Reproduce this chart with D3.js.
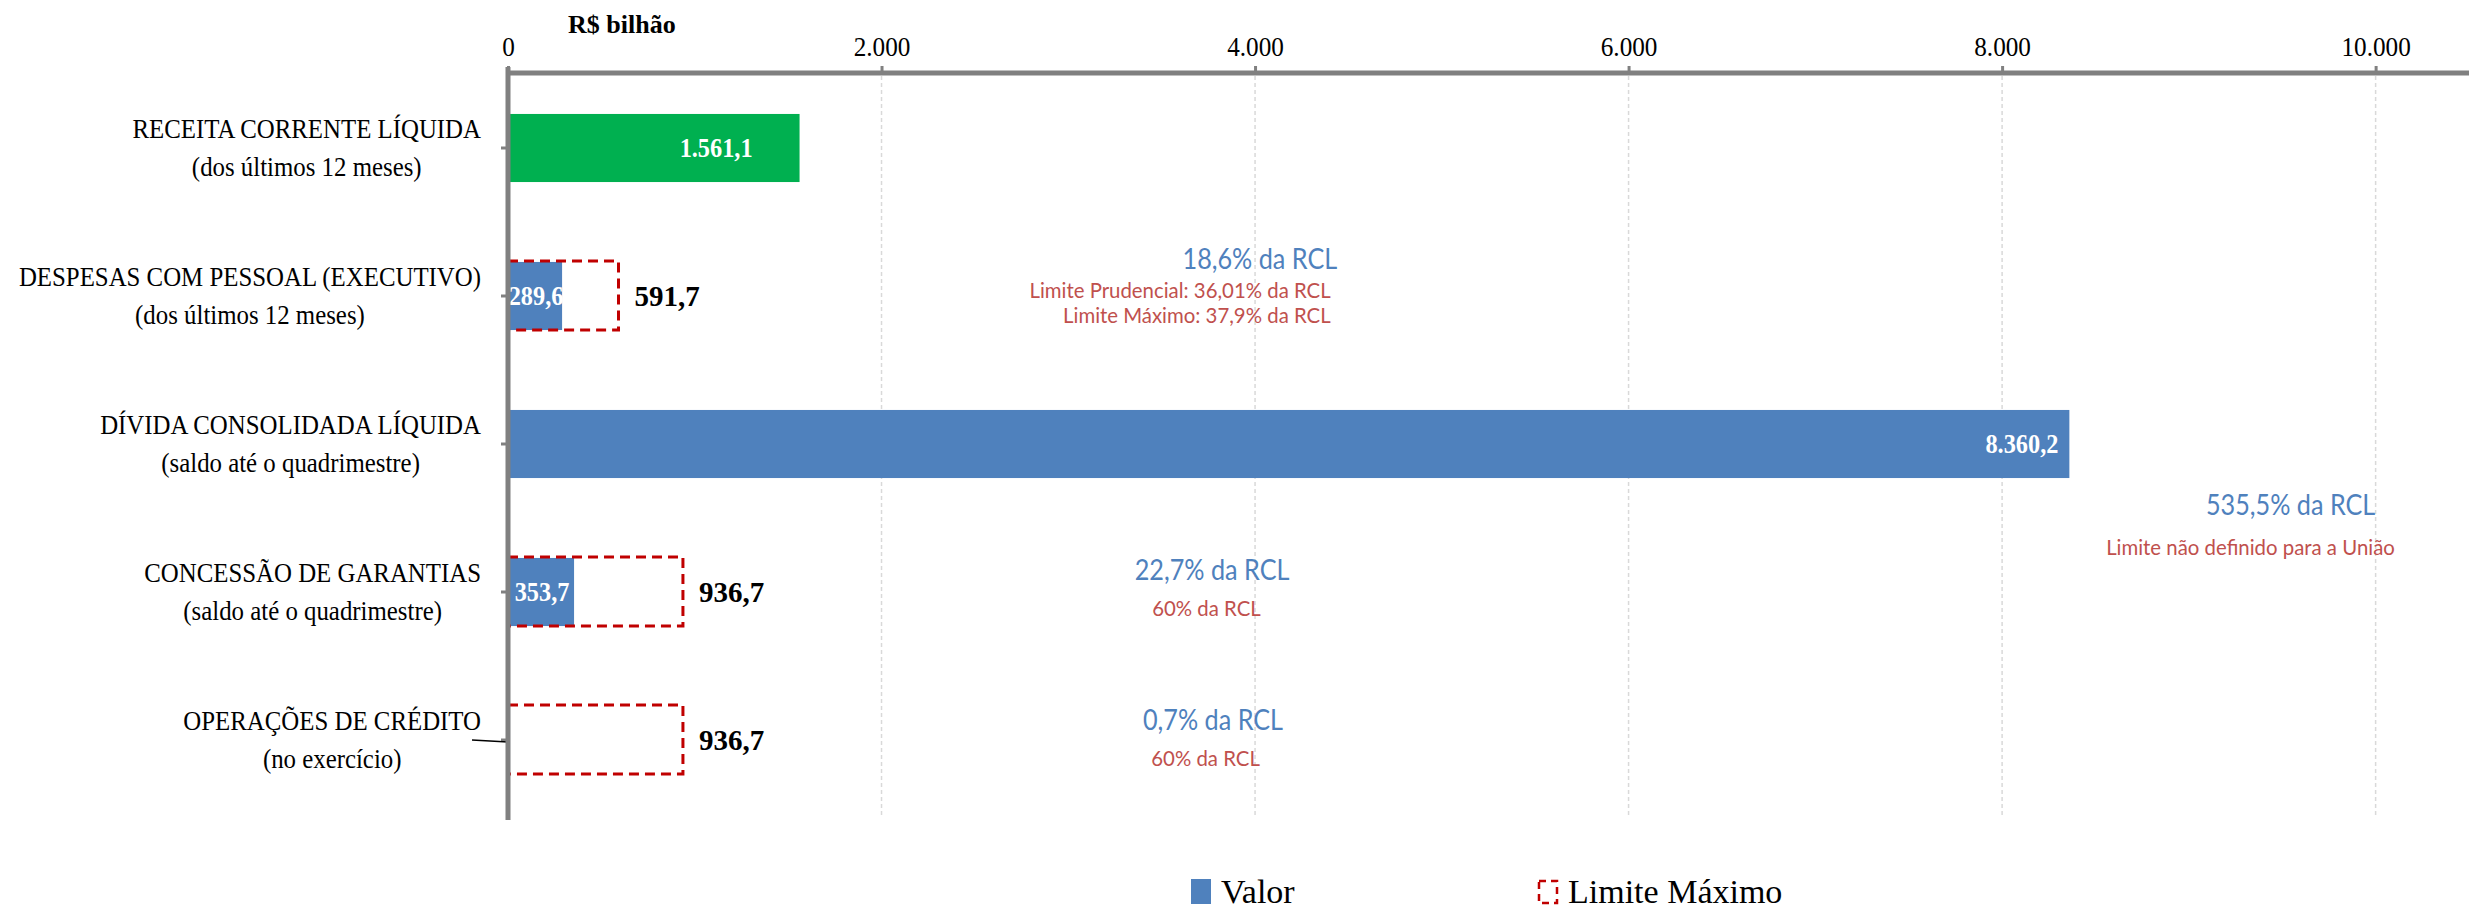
<!DOCTYPE html>
<html>
<head>
<meta charset="utf-8">
<script src="https://cdn.jsdelivr.net/npm/d3@7"></script>
<style>
body{margin:0;background:#fff;}
text{font-family:"Liberation Serif",serif;}
.note{font-family:Lato,"Open Sans",sans-serif;}
</style>
</head>
<body>
<div id="chart"></div>
<script>
var w = 2481;
var h = 910;

// data
var categorias = ["RECEITA CORRENTE LÍQUIDA", "DESPESAS COM PESSOAL (EXECUTIVO)", "DÍVIDA CONSOLIDADA LÍQUIDA", "CONCESSÃO DE GARANTIAS", "OPERAÇÕES DE CRÉDITO"];
var subtitulos = ["(dos últimos 12 meses)", "(dos últimos 12 meses)", "(saldo até o quadrimestre)", "(saldo até o quadrimestre)", "(no exercício)"];
var valor = [1561.1, 289.6, 8360.2, 353.7, 10.9];
var limiteMaximo = [null, 591.7, null, 936.7, 936.7];
var ticks = [0, 2000, 4000, 6000, 8000, 10000];
var pctRCL = ["", "18,6% da RCL", "535,5% da RCL", "22,7% da RCL", "0,7% da RCL"];
var limiteTexto = [[], ["Limite Prudencial: 36,01% da RCL", "Limite Máximo: 37,9% da RCL"], ["Limite não definido para a União"], ["60% da RCL"], ["60% da RCL"]];

// layout / style (not data)
var barColors = ["#00B050", "#4F81BD", "#4F81BD", "#4F81BD", "#4F81BD"];
var labelMode = ["end", "middle", "end", "middle", "none"];
var labelInset = [47, 0, 11, 0, 0];
// note anchors in R$ bilhão along x, dy from band center
var pctPos = [null, {x: 4440, a: "end", dy: -27}, {x: 9545, a: "middle", dy: 71}, {x: 3770, a: "middle", dy: -12}, {x: 3775, a: "middle", dy: -10}];
var limPos = [null, {x: 4405, a: "end", dy: 2, step: 25}, {x: 9330, a: "middle", dy: 111, step: 0}, {x: 3740, a: "middle", dy: 24, step: 0}, {x: 3735, a: "middle", dy: 26, step: 0}];

var br = d3.formatLocale({decimal: ",", thousands: ".", grouping: [3], currency: ["R$", ""]});
var fmt = br.format(",.1f");

// narrow the text a bit, the original font is a condensed one
function squeeze(sel, f){
	sel.each(function(){
		var l = this.getComputedTextLength();
		d3.select(this).attr("textLength", l * f).attr("lengthAdjust", "spacingAndGlyphs");
	});
}

var svg = d3.select("#chart").append("svg")
	.attr("width", w)
	.attr("height", h)
	.style("background", "#FFFFFF");

var x = d3.scaleLinear()
	.domain([0, 10500])
	.range([508, 2469]);

var y = d3.scaleBand()
	.domain(d3.range(categorias.length))
	.range([74, 814])
	.paddingInner(0.54)
	.paddingOuter(0.27);

var axisY = 73, axisBottom = 818;

// gridlines
svg.append("g").selectAll("line")
	.data(ticks.filter(function(t){return t > 0;}))
	.enter().append("line")
	.attr("x1", function(d){return x(d);})
	.attr("x2", function(d){return x(d);})
	.attr("y1", axisY + 3)
	.attr("y2", axisBottom)
	.style("stroke", "#D9D9D9")
	.style("stroke-width", 1.5)
	.style("stroke-dasharray", "4,3");

// valor bars
svg.append("g").selectAll("rect")
	.data(valor)
	.enter().append("rect")
	.attr("x", x(0))
	.attr("y", function(d, i){return y(i);})
	.attr("width", function(d){return x(d) - x(0);})
	.attr("height", y.bandwidth())
	.style("fill", function(d, i){return barColors[i];});

// limite maximo dashed boxes
svg.append("g").selectAll("rect")
	.data(limiteMaximo.map(function(d, i){return {v: d, i: i};}).filter(function(d){return d.v != null;}))
	.enter().append("rect")
	.attr("x", x(0))
	.attr("y", function(d){return y(d.i) - 1;})
	.attr("width", function(d){return x(d.v) - x(0);})
	.attr("height", y.bandwidth() + 1)
	.style("fill", "none")
	.style("stroke", "#C00000")
	.style("stroke-width", 3)
	.style("stroke-dasharray", "10,6");

// labels on bars
var barLabels = svg.append("g").selectAll("text")
	.data(valor.map(function(d, i){return {v: d, i: i};}).filter(function(d){return labelMode[d.i] != "none";}))
	.enter().append("text")
	.attr("x", function(d){
		if(labelMode[d.i] == "end") return x(d.v) - labelInset[d.i];
		return (x(0) + x(d.v)) / 2 + 1;
	})
	.attr("y", function(d){return y(d.i) + y.bandwidth() / 2 + 9;})
	.attr("text-anchor", function(d){return labelMode[d.i];})
	.style("fill", "#FFFFFF")
	.style("font-weight", "bold")
	.style("font-size", "27px")
	.text(function(d){return fmt(d.v);});
squeeze(barLabels, 0.9);

// labels for limite
svg.append("g").selectAll("text")
	.data(limiteMaximo.map(function(d, i){return {v: d, i: i};}).filter(function(d){return d.v != null;}))
	.enter().append("text")
	.attr("x", function(d){return x(d.v) + 16;})
	.attr("y", function(d){return y(d.i) + y.bandwidth() / 2 + 10;})
	.style("fill", "#000000")
	.style("font-weight", "bold")
	.style("font-size", "29px")
	.text(function(d){return fmt(d.v);});

// notes (% da RCL)
categorias.forEach(function(c, i){
	var cy = y(i) + y.bandwidth() / 2;
	if(pctPos[i]){
		var t = svg.append("text").attr("class", "note")
			.attr("x", x(pctPos[i].x))
			.attr("y", cy + pctPos[i].dy)
			.attr("text-anchor", pctPos[i].a)
			.style("fill", "#4F81BD")
			.style("font-size", "28px")
			.text(pctRCL[i]);
		squeeze(t, 0.9);
	}
	limiteTexto[i].forEach(function(s, j){
		var t = svg.append("text").attr("class", "note")
			.attr("x", x(limPos[i].x))
			.attr("y", cy + limPos[i].dy + j * limPos[i].step)
			.attr("text-anchor", limPos[i].a)
			.style("fill", "#C0504D")
			.style("font-size", "21px")
			.text(s);
		squeeze(t, 0.97);
	});
});

// category labels: two centered lines, block right-aligned near axis
categorias.forEach(function(c, i){
	var cy = y(i) + y.bandwidth() / 2;
	var g = svg.append("g");
	var t1 = g.append("text").attr("text-anchor", "middle").attr("y", cy - 10)
		.style("font-size", "27px").text(c);
	var t2 = g.append("text").attr("text-anchor", "middle").attr("y", cy + 28)
		.style("font-size", "27px").text(subtitulos[i]);
	var bw = Math.max(t1.node().getComputedTextLength(), t2.node().getComputedTextLength()) * 0.92;
	squeeze(t1, 0.92);
	squeeze(t2, 0.92);
	g.attr("transform", "translate(" + (481 - bw / 2) + ",0)");
});

// category ticks on vertical axis
svg.append("g").selectAll("line")
	.data(d3.range(categorias.length))
	.enter().append("line")
	.attr("x1", x(0) - 7)
	.attr("x2", x(0))
	.attr("y1", function(d){return y(d) + y.bandwidth() / 2;})
	.attr("y2", function(d){return y(d) + y.bandwidth() / 2;})
	.style("stroke", "#808080")
	.style("stroke-width", 3);

// leader line for operacoes de credito
svg.append("line")
	.attr("x1", 472).attr("y1", y(4) + y.bandwidth() / 2)
	.attr("x2", x(0)).attr("y2", y(4) + y.bandwidth() / 2 + 2)
	.style("stroke", "#000000")
	.style("stroke-width", 1.5);

// vertical axis line
svg.append("line")
	.attr("x1", x(0)).attr("x2", x(0))
	.attr("y1", axisY - 6).attr("y2", axisBottom + 2)
	.style("stroke", "#808080")
	.style("stroke-width", 5);

// top value axis
var xAxis = d3.axisTop(x)
	.tickValues(ticks)
	.tickSize(7)
	.tickPadding(10)
	.tickFormat(function(d){return br.format(",")(d);});

var ax = svg.append("g")
	.attr("transform", "translate(0," + axisY + ")")
	.call(xAxis);
ax.select(".domain")
	.attr("d", "M" + x(0) + ",0H" + x.range()[1])
	.style("stroke", "#808080")
	.style("stroke-width", 5);
ax.selectAll(".tick line").style("stroke", "#808080").style("stroke-width", 3);
ax.selectAll(".tick text")
	.style("font-family", "Liberation Serif, serif")
	.style("font-size", "28px")
	.style("fill", "#000");
squeeze(ax.selectAll(".tick text"), 0.9);

svg.append("text")
	.attr("x", 568)
	.attr("y", 33)
	.style("font-weight", "bold")
	.style("font-size", "26px")
	.text("R$ bilhão");

// legend
var legend = svg.append("g");
legend.append("rect")
	.attr("x", 1191).attr("y", 879).attr("width", 20).attr("height", 25)
	.style("fill", "#4F81BD");
legend.append("text")
	.attr("x", 1221).attr("y", 903)
	.style("font-size", "34px")
	.text("Valor");
legend.append("rect")
	.attr("x", 1539).attr("y", 881).attr("width", 18).attr("height", 22)
	.style("fill", "none")
	.style("stroke", "#C00000")
	.style("stroke-width", 2.5)
	.style("stroke-dasharray", "7,5");
legend.append("text")
	.attr("x", 1568).attr("y", 903)
	.style("font-size", "34px")
	.text("Limite Máximo");
</script>
</body>
</html>
